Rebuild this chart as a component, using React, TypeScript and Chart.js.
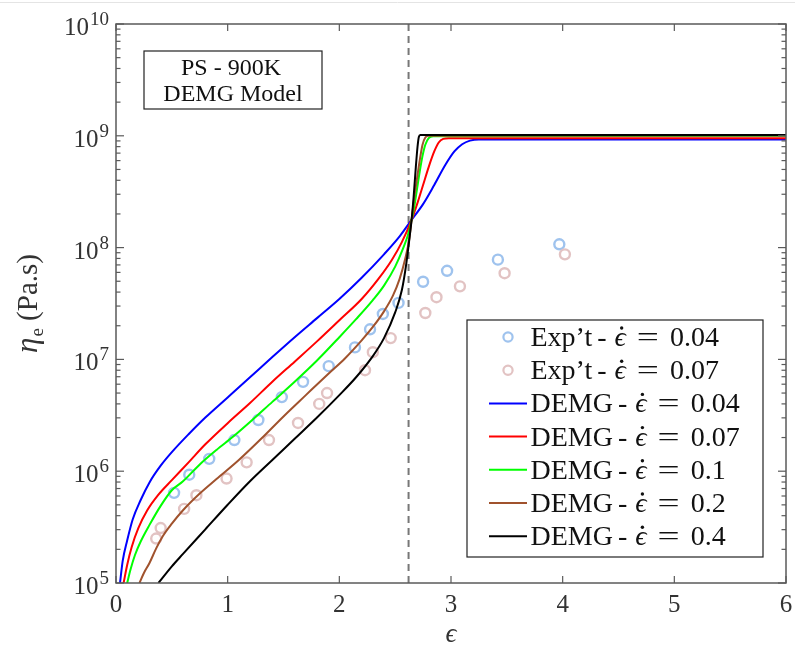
import React, { useEffect, useRef } from "react";
import { Chart, registerables } from "chart.js";

Chart.register(...registerables);

// ---------- data ----------
const expStrain004 = [0.52, 0.656, 0.835, 1.06, 1.275, 1.485, 1.675, 1.905, 2.14, 2.275, 2.39, 2.53, 2.75, 2.965, 3.42, 3.97];
const expEta004 = [6.4e5, 9.3e5, 1.29e6, 1.9e6, 2.87e6, 4.6e6, 6.3e6, 8.7e6, 1.28e7, 1.86e7, 2.55e7, 3.2e7, 4.95e7, 6.2e7, 7.8e7, 1.07e8];

const expStrain007 = [0.36, 0.40, 0.61, 0.72, 0.99, 1.17, 1.37, 1.63, 1.82, 1.89, 2.23, 2.30, 2.46, 2.77, 2.87, 3.08, 3.48, 4.02];
const expEta007 = [2.5e5, 3.1e5, 4.6e5, 6.1e5, 8.6e5, 1.2e6, 1.9e6, 2.7e6, 4.0e6, 5.0e6, 8.0e6, 1.16e7, 1.55e7, 2.6e7, 3.6e7, 4.5e7, 5.9e7, 8.7e7];

const demgStrain004 = [0.036, 0.06, 0.1, 0.15, 0.22, 0.3, 0.4, 0.5, 0.65, 0.8, 1.0, 1.2, 1.4, 1.6, 1.8, 2.0, 2.2, 2.4, 2.54, 2.647, 2.75, 2.85, 2.95, 3.03, 3.1, 3.17, 3.25, 6.0];
const demgEta004 = [1.0e5, 1.58e5, 2.4e5, 3.72e5, 5.5e5, 7.94e5, 1.12e6, 1.48e6, 2.14e6, 3.02e6, 4.57e6, 6.92e6, 1.05e7, 1.58e7, 2.34e7, 3.47e7, 5.37e7, 8.71e7, 1.26e8, 1.77e8, 2.45e8, 3.63e8, 5.5e8, 7.24e8, 8.41e8, 9.06e8, 9.29e8, 9.29e8];

const demgStrain007 = [0.068, 0.1, 0.14, 0.2, 0.28, 0.38, 0.5, 0.65, 0.8, 1.0, 1.2, 1.4, 1.6, 1.8, 2.0, 2.2, 2.35, 2.47, 2.56, 2.647, 2.7, 2.75, 2.8, 2.85, 2.89, 2.93, 2.98, 6.0];
const demgEta007 = [1.0e5, 1.45e5, 2.09e5, 3.09e5, 4.47e5, 6.17e5, 8.32e5, 1.2e6, 1.74e6, 2.69e6, 4.07e6, 6.31e6, 9.55e6, 1.45e7, 2.24e7, 3.47e7, 5.25e7, 7.76e7, 1.12e8, 1.77e8, 2.51e8, 3.63e8, 5.25e8, 7.24e8, 8.71e8, 9.38e8, 9.51e8, 9.51e8];

const demgStrain01 = [0.1, 0.13, 0.17, 0.22, 0.3, 0.4, 0.5, 0.6, 0.75, 0.9, 1.05, 1.2, 1.4, 1.6, 1.8, 2.0, 2.15, 2.3, 2.4, 2.5, 2.57, 2.62, 2.647, 2.67, 2.695, 2.72, 2.745, 2.77, 2.8, 2.84, 6.0];
const demgEta01 = [1.0e5, 1.32e5, 1.78e5, 2.34e5, 3.31e5, 4.9e5, 6.76e5, 8.13e5, 1.15e6, 1.55e6, 2.04e6, 2.75e6, 4.17e6, 6.31e6, 9.77e6, 1.58e7, 2.29e7, 3.39e7, 4.57e7, 6.76e7, 9.77e7, 1.35e8, 1.77e8, 2.29e8, 3.31e8, 4.79e8, 6.61e8, 8.32e8, 9.55e8, 9.93e8, 1.0e9];

const demgStrain02 = [0.21, 0.25, 0.3, 0.36, 0.42, 0.5, 0.6, 0.75, 0.9, 1.1, 1.3, 1.5, 1.7, 1.9, 2.05, 2.2, 2.3, 2.4, 2.48, 2.54, 2.59, 2.625, 2.647, 2.665, 2.69, 2.72, 2.745, 2.77, 2.8, 6.0];
const demgEta02 = [1.0e5, 1.23e5, 1.51e5, 2.04e5, 2.63e5, 3.39e5, 4.47e5, 6.31e5, 8.51e5, 1.26e6, 1.95e6, 3.09e6, 4.79e6, 7.41e6, 1.02e7, 1.48e7, 1.95e7, 2.69e7, 3.72e7, 5.25e7, 7.94e7, 1.17e8, 1.77e8, 2.51e8, 3.8e8, 6.03e8, 8.32e8, 9.66e8, 1.0e9, 1.007e9];

const demgStrain04 = [0.38, 0.5, 0.6, 0.8, 1.0, 1.2, 1.4, 1.6, 1.8, 2.0, 2.15, 2.3, 2.4, 2.5, 2.56, 2.6, 2.63, 2.647, 2.665, 2.685, 2.7, 2.712, 2.725, 6.0];
const demgEta04 = [1.0e5, 1.41e5, 1.82e5, 3.02e5, 5.01e5, 8.13e5, 1.26e6, 1.95e6, 3.02e6, 4.79e6, 6.92e6, 1.07e7, 1.55e7, 2.63e7, 4.17e7, 7.24e7, 1.26e8, 1.77e8, 2.82e8, 5.25e8, 7.94e8, 9.77e8, 1.016e9, 1.016e9];

const transitionStrain = 2.62;

const seriesLabels = [
  "Exp’t - ϵ̇ = 0.04",
  "Exp’t - ϵ̇ = 0.07",
  "DEMG - ϵ̇ = 0.04",
  "DEMG - ϵ̇ = 0.07",
  "DEMG - ϵ̇ = 0.1",
  "DEMG - ϵ̇ = 0.2",
  "DEMG - ϵ̇ = 0.4",
];

const xTickValues = [0, 1, 2, 3, 4, 5, 6];
const yTickExponents = [5, 6, 7, 8, 9, 10];
const annotationLines = ["PS - 900K", "DEMG Model"];

// ---------- helpers ----------
const pts = (xs: number[], ys: number[]) => xs.map((x, i) => ({ x, y: ys[i] }));
const SERIF = '"Liberation Serif", "Times New Roman", serif';

const decorPlugin = {
  id: "matlabDecor",
  afterDraw(chart: any) {
    const { ctx, chartArea: a, scales } = chart;
    const xs = scales.x;
    const ys = scales.y;
    const seg = (x1: number, y1: number, x2: number, y2: number) => {
      ctx.beginPath();
      ctx.moveTo(x1, y1);
      ctx.lineTo(x2, y2);
      ctx.stroke();
    };
    ctx.save();

    // faint top rule
    ctx.strokeStyle = "#e4e4e4";
    ctx.lineWidth = 1;
    seg(0, 2.5, chart.width, 2.5);

    // frame
    ctx.strokeStyle = "#5a5a5a";
    ctx.lineWidth = 1.5;
    ctx.strokeRect(a.left, a.top, a.right - a.left, a.bottom - a.top);

    // x ticks + labels
    ctx.lineWidth = 1.2;
    ctx.fillStyle = "#333";
    ctx.font = `25px ${SERIF}`;
    ctx.textAlign = "center";
    ctx.textBaseline = "alphabetic";
    for (const v of xTickValues) {
      const px = xs.getPixelForValue(v);
      seg(px, a.bottom, px, a.bottom - 7);
      seg(px, a.top, px, a.top + 7);
      ctx.fillText(String(v), px, a.bottom + 29);
    }

    // y ticks (major + minor)
    for (const e of yTickExponents) {
      for (let m = 1; m <= 9; m++) {
        if (e === yTickExponents[yTickExponents.length - 1] && m > 1) break;
        const py = ys.getPixelForValue(m * Math.pow(10, e));
        const len = m === 1 ? 8 : 4.5;
        seg(a.left, py, a.left + len, py);
        seg(a.right, py, a.right - len, py);
      }
    }
    // y labels with superscripts
    for (const e of yTickExponents) {
      const py = ys.getPixelForValue(Math.pow(10, e));
      const rightEdge = a.left - 7;
      ctx.textAlign = "left";
      ctx.font = `19px ${SERIF}`;
      const sup = String(e);
      const wSup = ctx.measureText(sup).width;
      ctx.font = `25px ${SERIF}`;
      const wMain = ctx.measureText("10").width;
      ctx.fillText("10", rightEdge - wSup - wMain - 1, py + 11);
      ctx.font = `19px ${SERIF}`;
      ctx.fillText(sup, rightEdge - wSup, py + 1);
    }

    // x axis title
    ctx.textAlign = "center";
    ctx.font = `italic 27px ${SERIF}`;
    ctx.fillText("ϵ", (a.left + a.right) / 2, a.bottom + 59);

    // y axis title (rotated)
    ctx.save();
    ctx.translate(37, (a.top + a.bottom) / 2);
    ctx.rotate(-Math.PI / 2);
    ctx.font = `italic 31px ${SERIF}`;
    const wEta = ctx.measureText("η").width;
    ctx.font = `19px ${SERIF}`;
    const wSub = ctx.measureText("e").width;
    ctx.font = `29px ${SERIF}`;
    const wRest = ctx.measureText(" (Pa.s)").width;
    const total = wEta + wSub + 1 + wRest;
    let cx = -total / 2;
    ctx.textAlign = "left";
    ctx.font = `italic 31px ${SERIF}`;
    ctx.fillText("η", cx, 0);
    cx += wEta + 1;
    ctx.font = `19px ${SERIF}`;
    ctx.fillText("e", cx, 6);
    cx += wSub;
    ctx.font = `29px ${SERIF}`;
    ctx.fillText(" (Pa.s)", cx, 0);
    ctx.restore();

    // annotation box
    const bx = a.left + 28, by = a.top + 27, bw = 178, bh = 58;
    ctx.fillStyle = "#fff";
    ctx.fillRect(bx, by, bw, bh);
    ctx.strokeStyle = "#222";
    ctx.lineWidth = 1.2;
    ctx.strokeRect(bx, by, bw, bh);
    ctx.fillStyle = "#111";
    ctx.font = `24px ${SERIF}`;
    ctx.textAlign = "center";
    ctx.fillText(annotationLines[0], bx + bw / 2 - 2, by + 24);
    ctx.fillText(annotationLines[1], bx + bw / 2, by + 50);

    // legend
    const lw = 296, lh = 237;
    const lx = a.right - 23 - lw, ly = a.bottom - 26 - lh;
    ctx.fillStyle = "#fff";
    ctx.fillRect(lx, ly, lw, lh);
    ctx.strokeStyle = "#222";
    ctx.lineWidth = 1.2;
    ctx.strokeRect(lx, ly, lw, lh);
    const dsets = chart.data.datasets.slice(0, seriesLabels.length);
    dsets.forEach((ds: any, i: number) => {
      const cy = ly + 17 + i * 33.2;
      if (ds.showLine === false) {
        ctx.strokeStyle = ds.borderColor;
        ctx.lineWidth = 2.2;
        ctx.beginPath();
        ctx.arc(lx + 41, cy, 4.6, 0, Math.PI * 2);
        ctx.stroke();
      } else {
        ctx.strokeStyle = ds.borderColor;
        ctx.lineWidth = 2;
        seg(lx + 22, cy, lx + 60, cy);
      }
      const label: string = ds.label;
      const [name, rest] = label.split(" - ");
      const [sym, val] = rest.split(" = ");
      const baseSym = sym.replace("\u0307", "");
      ctx.fillStyle = "#111";
      ctx.textAlign = "left";
      const base = cy + 9;
      let tx = lx + 63.5;
      ctx.font = `28px ${SERIF}`;
      ctx.fillText(name, tx, base);
      tx += ctx.measureText(name).width + 5;
      ctx.fillText("-", tx, base);
      tx += ctx.measureText("-").width + 8;
      ctx.font = `italic 28px ${SERIF}`;
      ctx.fillText(baseSym, tx, base);
      const wS = ctx.measureText(baseSym).width;
      // overdot of the time-derivative symbol
      ctx.beginPath();
      ctx.arc(tx + wS / 2 + 1.5, base - 18, 1.7, 0, Math.PI * 2);
      ctx.fill();
      tx += wS + 11;
      ctx.font = `28px ${SERIF}`;
      ctx.save();
      ctx.translate(tx, base);
      ctx.scale(1.4, 1);
      ctx.fillText("=", 0, 0);
      ctx.restore();
      tx += ctx.measureText("=").width * 1.4 + 11;
      ctx.fillText(val, tx, base);
    });

    ctx.restore();
  },
};

export default function App() {
  const canvasRef = useRef<HTMLCanvasElement | null>(null);

  useEffect(() => {
    const canvas = canvasRef.current;
    if (!canvas) return;
    const lineDs = (label: string, xs: number[], ys: number[], color: string, order: number) => ({
      label,
      data: pts(xs, ys),
      borderColor: color,
      backgroundColor: color,
      borderWidth: 2,
      pointRadius: 0,
      fill: false,
      showLine: true,
      cubicInterpolationMode: "monotone",
      order,
    });
    const expDs = (label: string, xs: number[], ys: number[], color: string, order: number) => ({
      label,
      data: pts(xs, ys),
      borderColor: color,
      backgroundColor: "rgba(0,0,0,0)",
      borderWidth: 2.4,
      pointRadius: 5,
      pointStyle: "circle",
      showLine: false,
      order,
    });
    const chart = new Chart(canvas, {
      type: "line",
      data: {
        datasets: [
          expDs(seriesLabels[0], expStrain004, expEta004, "#9fc3ee", 21),
          expDs(seriesLabels[1], expStrain007, expEta007, "#e2c3c3", 20),
          lineDs(seriesLabels[2], demgStrain004, demgEta004, "#0000ff", 5),
          lineDs(seriesLabels[3], demgStrain007, demgEta007, "#ff0000", 4),
          lineDs(seriesLabels[4], demgStrain01, demgEta01, "#00ff00", 3),
          lineDs(seriesLabels[5], demgStrain02, demgEta02, "#a0522d", 2),
          lineDs(seriesLabels[6], demgStrain04, demgEta04, "#000000", 1),
          {
            label: "transition",
            data: [
              { x: transitionStrain, y: 1e5 },
              { x: transitionStrain, y: 1e10 },
            ],
            borderColor: "#777777",
            borderWidth: 2,
            borderDash: [7, 5],
            pointRadius: 0,
            showLine: true,
            fill: false,
            order: 10,
          },
        ] as any,
      },
      options: {
        animation: false,
        responsive: false,
        maintainAspectRatio: false,
        layout: { padding: { left: 116, right: 9, top: 24, bottom: 64 } },
        scales: {
          x: { type: "linear", min: 0, max: 6, display: false },
          y: { type: "logarithmic", min: 1e5, max: 1e10, display: false },
        },
        plugins: {
          legend: { display: false },
          tooltip: { enabled: false },
        },
      },
      plugins: [decorPlugin],
    });
    return () => chart.destroy();
  }, []);

  return (
    <div style={{ position: "absolute", left: 0, top: 0, width: 795, height: 647, background: "#fff" }}>
      <canvas ref={canvasRef} width={795} height={647} style={{ display: "block" }} />
    </div>
  );
}
